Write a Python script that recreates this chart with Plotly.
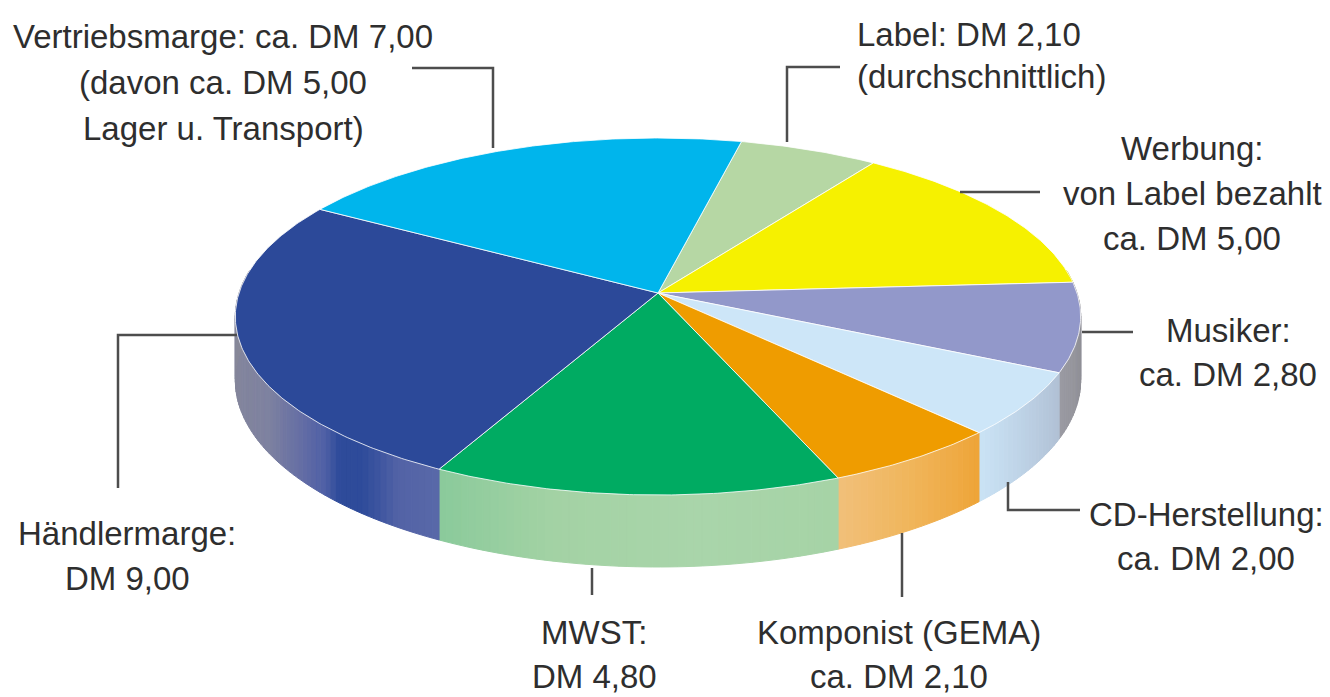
import math
import plotly.graph_objects as go

# ---------------- data ----------------
categories = ["Label", "Werbung", "Musiker", "CD-Herstellung",
              "Komponist (GEMA)", "MWST", "Händlermarge", "Vertriebsmarge"]
values = [2.10, 5.00, 2.80, 2.00, 2.10, 4.80, 9.00, 7.00]
label_lines = [
    ["Label: DM 2,10", "(durchschnittlich)"],
    ["Werbung:", "von Label bezahlt", "ca. DM 5,00"],
    ["Musiker:", "ca. DM 2,80"],
    ["CD-Herstellung:", "ca. DM 2,00"],
    ["Komponist (GEMA)", "ca. DM 2,10"],
    ["MWST:", "DM 4,80"],
    ["Händlermarge:", "DM 9,00"],
    ["Vertriebsmarge: ca. DM 7,00", "(davon ca. DM 5,00", "Lager u. Transport)"],
]

# ---------------- styles ----------------
top_colors = ["#B6D7A4", "#F6F100", "#9298CA", "#CDE6F8",
              "#EF9C00", "#00AB62", "#2C4999", "#00B5EC"]
# side gradient stops (t over the visible part, right -> left on screen)
side_stops = [
    [(0, "#9CB88C"), (1, "#9CB88C")],
    [(0, "#C8C200"), (1, "#C8C200")],
    [(0, "#85858C"), (1, "#9A9AA2")],
    [(0, "#B0C0D4"), (0.5, "#BCD0E4"), (1, "#CAE3F5")],
    [(0, "#EEA438"), (0.5, "#F0B458"), (1, "#F1C07A")],
    [(0, "#A6D3A6"), (0.35, "#A9D5AA"), (0.7, "#A3D2A4"), (1, "#8ACA9B")],
    [(0, "#5868A8"), (0.085, "#5363A6"), (0.13, "#3E55A0"), (0.17, "#2E4B9A"),
     (0.23, "#2E4B9A"), (0.27, "#5060A6"), (0.355, "#6870A4"),
     (0.47, "#7E82A0"), (1, "#8A8A96")],
    [(0, "#8B8C9A"), (1, "#8B8C9A")],
]

FONT = "Liberation Sans, Arial, sans-serif"
FONT_SIZE = 33
TEXT_COLOR = "#2e2e2e"
LINE_COLOR = "#4d4d4d"

# geometry of the tilted disc (pixel space)
CX, CY = 658.0, 293.0
RX, RY = 419.0, 175.4
K = 0.1317          # perspective strength
DEPTH = 62.5        # side height
START = -77.0       # degrees, screen coordinates (clockwise, y down)


def proj(deg):
    t = math.radians(deg)
    u, v = math.cos(t), math.sin(t)
    f = 1.0 / (1.0 - K * v)
    return CX + RX * u * f, CY + RY * v * f, f


def hex2rgb(h):
    h = h.lstrip("#")
    return tuple(int(h[i:i + 2], 16) for i in (0, 2, 4))


def grad(stops, t):
    t = min(max(t, 0.0), 1.0)
    for (t0, c0), (t1, c1) in zip(stops[:-1], stops[1:]):
        if t <= t1:
            w = 0.0 if t1 == t0 else (t - t0) / (t1 - t0)
            a, b = hex2rgb(c0), hex2rgb(c1)
            c = tuple(round(a[j] + (b[j] - a[j]) * w) for j in range(3))
            return "rgb(%d,%d,%d)" % c
    a = hex2rgb(stops[-1][1])
    return "rgb(%d,%d,%d)" % a


total = sum(values)
angles = []
acc = START
for v in values:
    span = v / total * 360.0
    angles.append((acc, acc + span))
    acc += span

fig = go.Figure()

# ---------- sides (front visible part) ----------
sil = math.degrees(math.asin(K))
vis_lo, vis_hi = -sil, 180.0 + sil
for i, (a0, a1) in enumerate(angles):
    for shift in (0.0, 360.0, -360.0):
        lo = max(a0 + shift, vis_lo)
        hi = min(a1 + shift, vis_hi)
        if hi <= lo:
            continue
        n = max(1, int(math.ceil((hi - lo) / 1.0)))
        for j in range(n):
            s0 = lo + (hi - lo) * j / n
            s1 = lo + (hi - lo) * (j + 1) / n
            x0, y0, f0 = proj(s0)
            x1, y1, f1 = proj(s1)
            tmid = (j + 0.5) / n
            col = grad(side_stops[i], tmid)
            fig.add_trace(go.Scatter(
                x=[x0, x1, x1, x0, x0],
                y=[y0, y1, y1 + DEPTH * f1, y0 + DEPTH * f0, y0],
                mode="lines", fill="toself", fillcolor=col,
                line=dict(color=col, width=1), hoverinfo="skip",
                showlegend=False))

# ---------- top faces ----------
for i, (a0, a1) in enumerate(angles):
    n = max(2, int((a1 - a0) / 0.5))
    xs, ys = [CX], [CY]
    for j in range(n + 1):
        x, y, _ = proj(a0 + (a1 - a0) * j / n)
        xs.append(x)
        ys.append(y)
    xs.append(CX)
    ys.append(CY)
    fig.add_trace(go.Scatter(
        x=xs, y=ys, mode="lines", fill="toself", fillcolor=top_colors[i],
        line=dict(color="rgba(255,255,255,0.8)", width=1),
        name=categories[i], hoverinfo="name", showlegend=False))

# ---------- labels ----------
# (x, first line y, line spacing, anchor)
label_pos = [
    (855, 34, 42, "left"),
    (1192, 148, 45, "center"),
    (1228, 330, 44, "center"),
    (1206, 514, 44, "center"),
    (899, 632, 44, "center"),
    (594, 632, 44, "center"),
    (127, 533, 45, "center"),
    (223, 36, 46, "center"),
]
annotations = []
for lines, (x, y, dy, anc) in zip(label_lines, label_pos):
    for k, t in enumerate(lines):
        annotations.append(dict(
            x=x, y=y + k * dy, xref="x", yref="y", text=t, showarrow=False,
            xanchor=anc, yanchor="middle",
            font=dict(family=FONT, size=FONT_SIZE, color=TEXT_COLOR)))

# ---------- leader lines ----------
leaders = [
    [(787, 142), (787, 67), (840, 67)],
    [(960, 192), (1040, 192)],
    [(1082, 332), (1133, 332)],
    [(1008, 482), (1008, 510), (1080, 510)],
    [(902, 533), (902, 597)],
    [(592, 568), (592, 595)],
    [(237, 335), (118, 335), (118, 488)],
    [(412, 68), (493, 68), (493, 148)],
]
shapes = []
for pts in leaders:
    path = "M %f %f " % pts[0] + " ".join("L %f %f" % p for p in pts[1:])
    shapes.append(dict(type="path", path=path, xref="x", yref="y",
                       line=dict(color=LINE_COLOR, width=2.5), layer="above"))

fig.update_layout(
    width=1330, height=697,
    margin=dict(l=0, r=0, t=0, b=0),
    paper_bgcolor="white", plot_bgcolor="white",
    xaxis=dict(range=[0, 1330], visible=False, fixedrange=True),
    yaxis=dict(range=[697, 0], visible=False, fixedrange=True),
    annotations=annotations, shapes=shapes,
    showlegend=False,
)

fig.write_html("out.html")
